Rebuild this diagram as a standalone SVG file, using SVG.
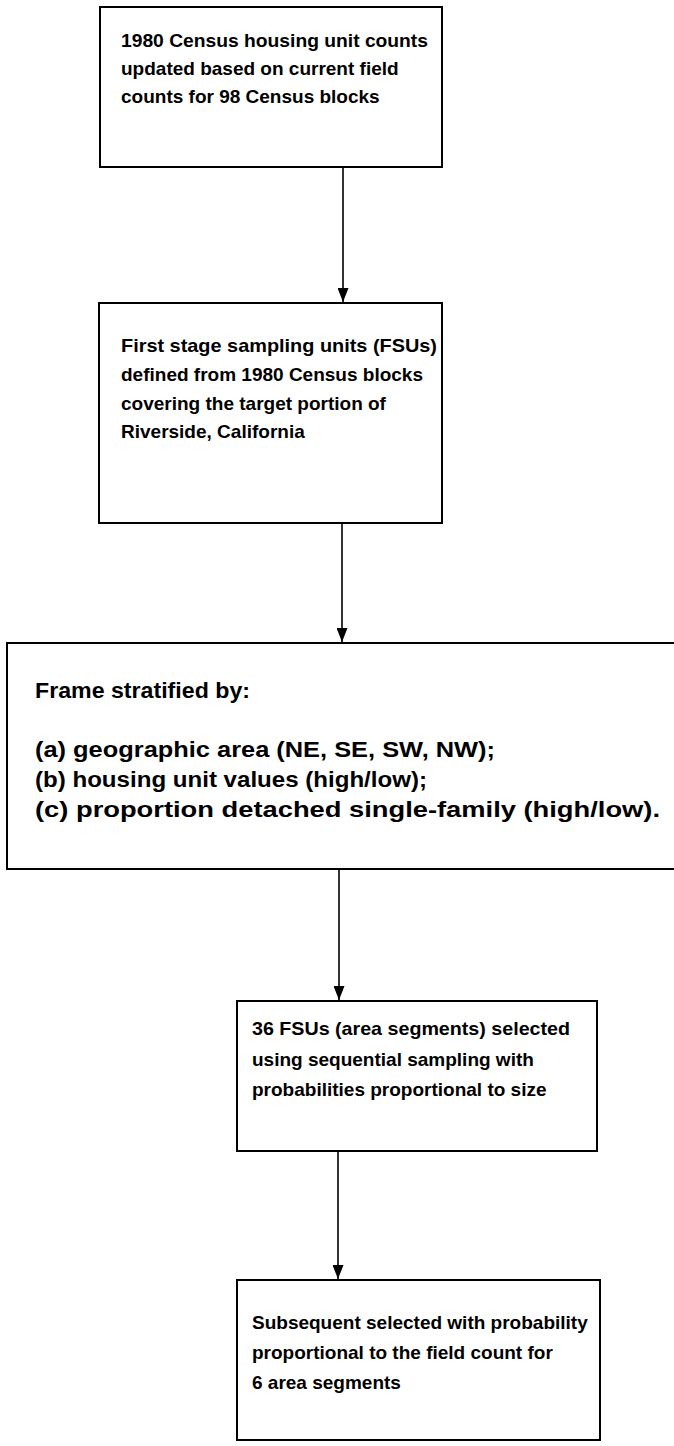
<svg xmlns="http://www.w3.org/2000/svg" width="674" height="1446" viewBox="0 0 674 1446">
<style>
.box{fill:#fff;stroke:#000;stroke-width:2}
.t{font-family:"Liberation Sans",Arial,sans-serif;font-size:19px;font-weight:bold;fill:#000}
.t3{font-family:"Liberation Sans",Arial,sans-serif;font-size:22px;font-weight:bold;fill:#000}
.c{stroke:#000;stroke-width:1.6;fill:none}
</style>
<defs>
<marker id="ah" viewBox="0 0 14 11" refX="14" refY="5.5" markerWidth="14" markerHeight="11" markerUnits="userSpaceOnUse" orient="auto">
<path d="M0,0 L14,5.5 L0,11 Z" fill="#000"/>
</marker>
</defs>
<rect width="674" height="1446" fill="#fff"/>
<g id="connectors">
<line class="c" x1="343" y1="167" x2="343" y2="302" marker-end="url(#ah)"/>
<line class="c" x1="342" y1="523" x2="342" y2="642" marker-end="url(#ah)"/>
<line class="c" x1="339" y1="869" x2="339" y2="1000" marker-end="url(#ah)"/>
<line class="c" x1="338" y1="1151" x2="338" y2="1279" marker-end="url(#ah)"/>
</g>
<g id="node1">
<rect class="box" x="100" y="7" width="342" height="160"/>
<text class="t" x="121" y="47" textLength="307" lengthAdjust="spacingAndGlyphs">1980 Census housing unit counts</text>
<text class="t" x="121" y="75">updated based on current field</text>
<text class="t" x="121" y="103">counts for 98 Census blocks</text>
</g>
<g id="node2">
<rect class="box" x="99" y="303" width="343" height="220"/>
<text class="t" x="121" y="352" textLength="316" lengthAdjust="spacingAndGlyphs">First stage sampling units (FSUs)</text>
<text class="t" x="121" y="381">defined from 1980 Census blocks</text>
<text class="t" x="121" y="410">covering the target portion of</text>
<text class="t" x="121" y="438">Riverside, California</text>
</g>
<g id="node3">
<rect class="box" x="7" y="643" width="680" height="226"/>
<text class="t3" x="35" y="698" textLength="215" lengthAdjust="spacingAndGlyphs">Frame stratified by:</text>
<text class="t3" x="35" y="757" textLength="460" lengthAdjust="spacingAndGlyphs">(a) geographic area (NE, SE, SW, NW);</text>
<text class="t3" x="35" y="787" textLength="392" lengthAdjust="spacingAndGlyphs">(b) housing unit values (high/low);</text>
<text class="t3" x="35" y="817" textLength="625" lengthAdjust="spacingAndGlyphs">(c) proportion detached single-family (high/low).</text>
</g>
<g id="node4">
<rect class="box" x="237" y="1001" width="360" height="150"/>
<text class="t" x="252" y="1035" textLength="318" lengthAdjust="spacingAndGlyphs">36 FSUs (area segments) selected</text>
<text class="t" x="252" y="1066">using sequential sampling with</text>
<text class="t" x="252" y="1096">probabilities proportional to size</text>
</g>
<g id="node5">
<rect class="box" x="237" y="1280" width="363" height="160"/>
<text class="t" x="252" y="1329">Subsequent selected with probability</text>
<text class="t" x="252" y="1359">proportional to the field count for</text>
<text class="t" x="252" y="1389">6 area segments</text>
</g>
</svg>
